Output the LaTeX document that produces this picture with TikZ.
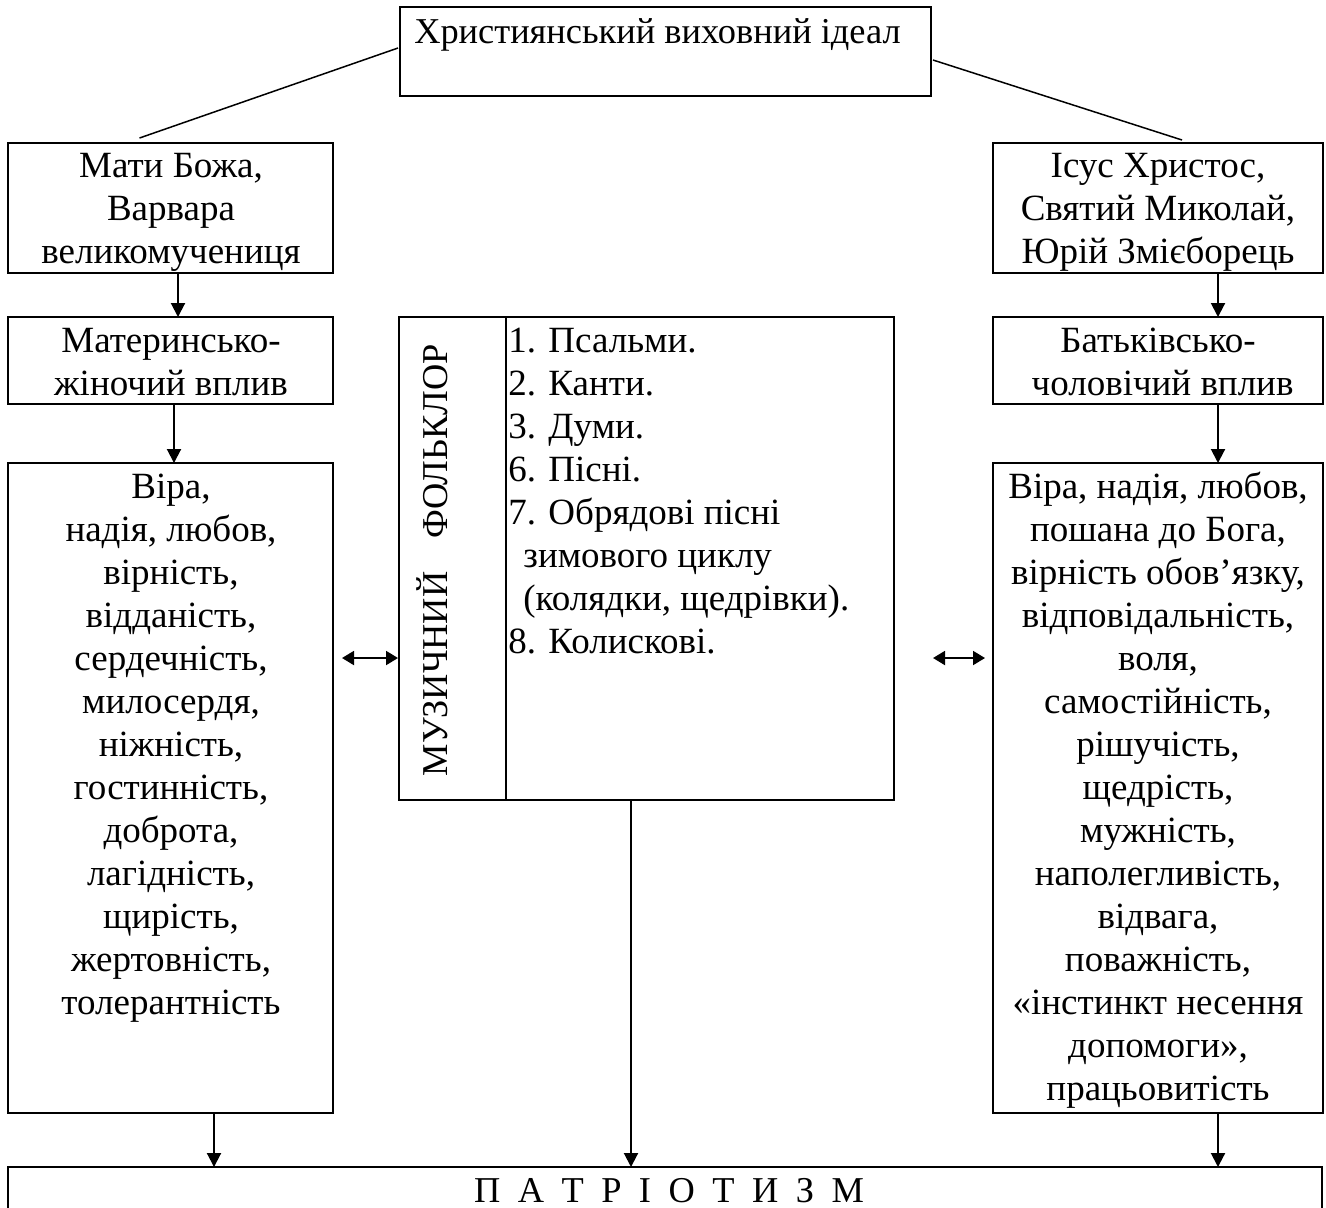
\documentclass[tikz,border=0pt]{standalone}
\usepackage{fontspec}
\setmainfont{Liberation Serif}
\usetikzlibrary{arrows.meta,calc}
\newcommand\lsp{\hspace{0.48em}}
\begin{document}
\begin{tikzpicture}[x=0.5pt,y=-0.5pt,
  box/.style={draw, line width=1pt, rectangle, inner sep=0pt, outer sep=0pt},
  txt/.style={inner sep=0pt, align=center, font=\fontsize{18.5}{21.5}\selectfont},
  lst/.style={inner sep=0pt, align=left, font=\fontsize{18.5}{21.5}\selectfont},
  big/.style={inner sep=0pt, font=\fontsize{18.2}{22}\selectfont},
  arr/.style={line width=1pt, -{Triangle[length=7pt,width=7pt]}},
  darr/.style={line width=1pt, {Triangle[length=6pt,width=7pt]}-{Triangle[length=6pt,width=7pt]}},
  link/.style={line width=0.75pt}]
\useasboundingbox (0,0) rectangle (1326,1207);
\clip (0,0) rectangle (1326,1207);
\fill[white] (0,0) rectangle (1326,1207);

% boxes
\node[box, minimum width=265.5pt, minimum height=44.5pt] (top) at (665.5,51.5) {};
\node[box, minimum width=162.5pt, minimum height=65pt] (lb1) at (170.5,208) {};
\node[box, minimum width=165pt, minimum height=65pt] (rb1) at (1158,208) {};
\node[box, minimum width=162.5pt, minimum height=43.5pt] (lb2) at (170.5,360.5) {};
\node[box, minimum width=165pt, minimum height=43.5pt] (rb2) at (1158,360.5) {};
\node[box, minimum width=162.5pt, minimum height=325pt] (lb3) at (170.5,788) {};
\node[box, minimum width=165pt, minimum height=325pt] (rb3) at (1158,788) {};
\node[box, minimum width=247.5pt, minimum height=241.5pt] (mid) at (646.5,558.5) {};
\node[box, minimum width=657pt, minimum height=36.5pt] (pat) at (665,1203.5) {};
\draw[line width=1pt] ($(mid.north west)+(107,0)$) -- ($(mid.south west)+(107,0)$);

% texts
\node[big, anchor=base] (ttop) at (657.5,43) {Християнський виховний ідеал};
\node[txt, anchor=north] (tlb1) at (171,146.9) {\strut Мати Божа,\\Варвара\\великомучениця};
\node[txt, anchor=north] (trb1) at (1158,146.9) {\strut Ісус Христос,\\Святий Миколай,\\Юрій Змієборець};
\node[txt, anchor=north] (tlb2) at (171,321.9) {\strut Материнсько-\\жіночий вплив};
\node[txt, anchor=north] (trb2) at (1158,321.9) {\strut Батьківсько-\\\ чоловічий вплив};
\node[txt, anchor=north] (tlb3) at (171,467.9) {\strut Віра,\\надія, любов,\\вірність,\\відданість,\\сердечність,\\милосердя,\\ніжність,\\гостинність,\\доброта,\\лагідність,\\щирість,\\жертовність,\\толерантність};
\node[txt, anchor=north] (trb3) at (1158,467.9) {\strut Віра, надія, любов,\\пошана до Бога,\\вірність обов’язку,\\відповідальність,\\воля,\\самостійність,\\рішучість,\\щедрість,\\мужність,\\наполегливість,\\відвага,\\поважність,\\«інстинкт несення\\допомоги»,\\працьовитість};
\node[lst, anchor=north west] (tmid) at (508,321.9) {\strut 1. Псальми.\\2. Канти.\\3. Думи.\\6. Пісні.\\7. Обрядові пісні\\\hspace*{7.5pt}зимового циклу\\\hspace*{7.5pt}(колядки, щедрівки).\\8. Колискові.};
\node[big, anchor=base, rotate=90] (tvert) at (447,560) {МУЗИЧНИЙ\hspace{0.9em}ФОЛЬКЛОР};
\node[big, anchor=base] (tpat) at (669,1202) {П\lsp А\lsp Т\lsp Р\lsp І\lsp О\lsp Т\lsp И\lsp З\lsp М};

% connectors
\draw[link] ($(top.west)+(-2,-3.5)$) -- ($(lb1.north)+(-31,-5)$);
\draw[link] ($(top.east)+(2,8.5)$) -- ($(rb1.north)+(24,-3)$);
\draw[arr] ($(lb1.south)+(7.5,0)$) -- ($(lb2.north)+(7.5,0)$);
\draw[arr] ($(lb2.south)+(3.5,0)$) -- ($(lb3.north)+(3.5,0)$);
\draw[arr] ($(rb1.south)+(60,0)$) -- ($(rb2.north)+(60,0)$);
\draw[arr] ($(rb2.south)+(60,0)$) -- ($(rb3.north)+(60,0)$);
\draw[arr] ($(lb3.south)+(43.5,0)$) coordinate (a1) -- (a1 |- pat.north);
\draw[arr] ($(mid.south)+(-15.5,0)$) coordinate (a2) -- (a2 |- pat.north);
\draw[arr] ($(rb3.south)+(60,0)$) coordinate (a3) -- (a3 |- pat.north);
\draw[darr] ($(lb3.east |- mid.west)+(9,99.5)$) -- ($(mid.west)+(-1,99.5)$);
\draw[darr] ($(mid.east)+(39,99.5)$) -- ($(rb3.west |- mid.east)+(-8,99.5)$);
\end{tikzpicture}
\end{document}
